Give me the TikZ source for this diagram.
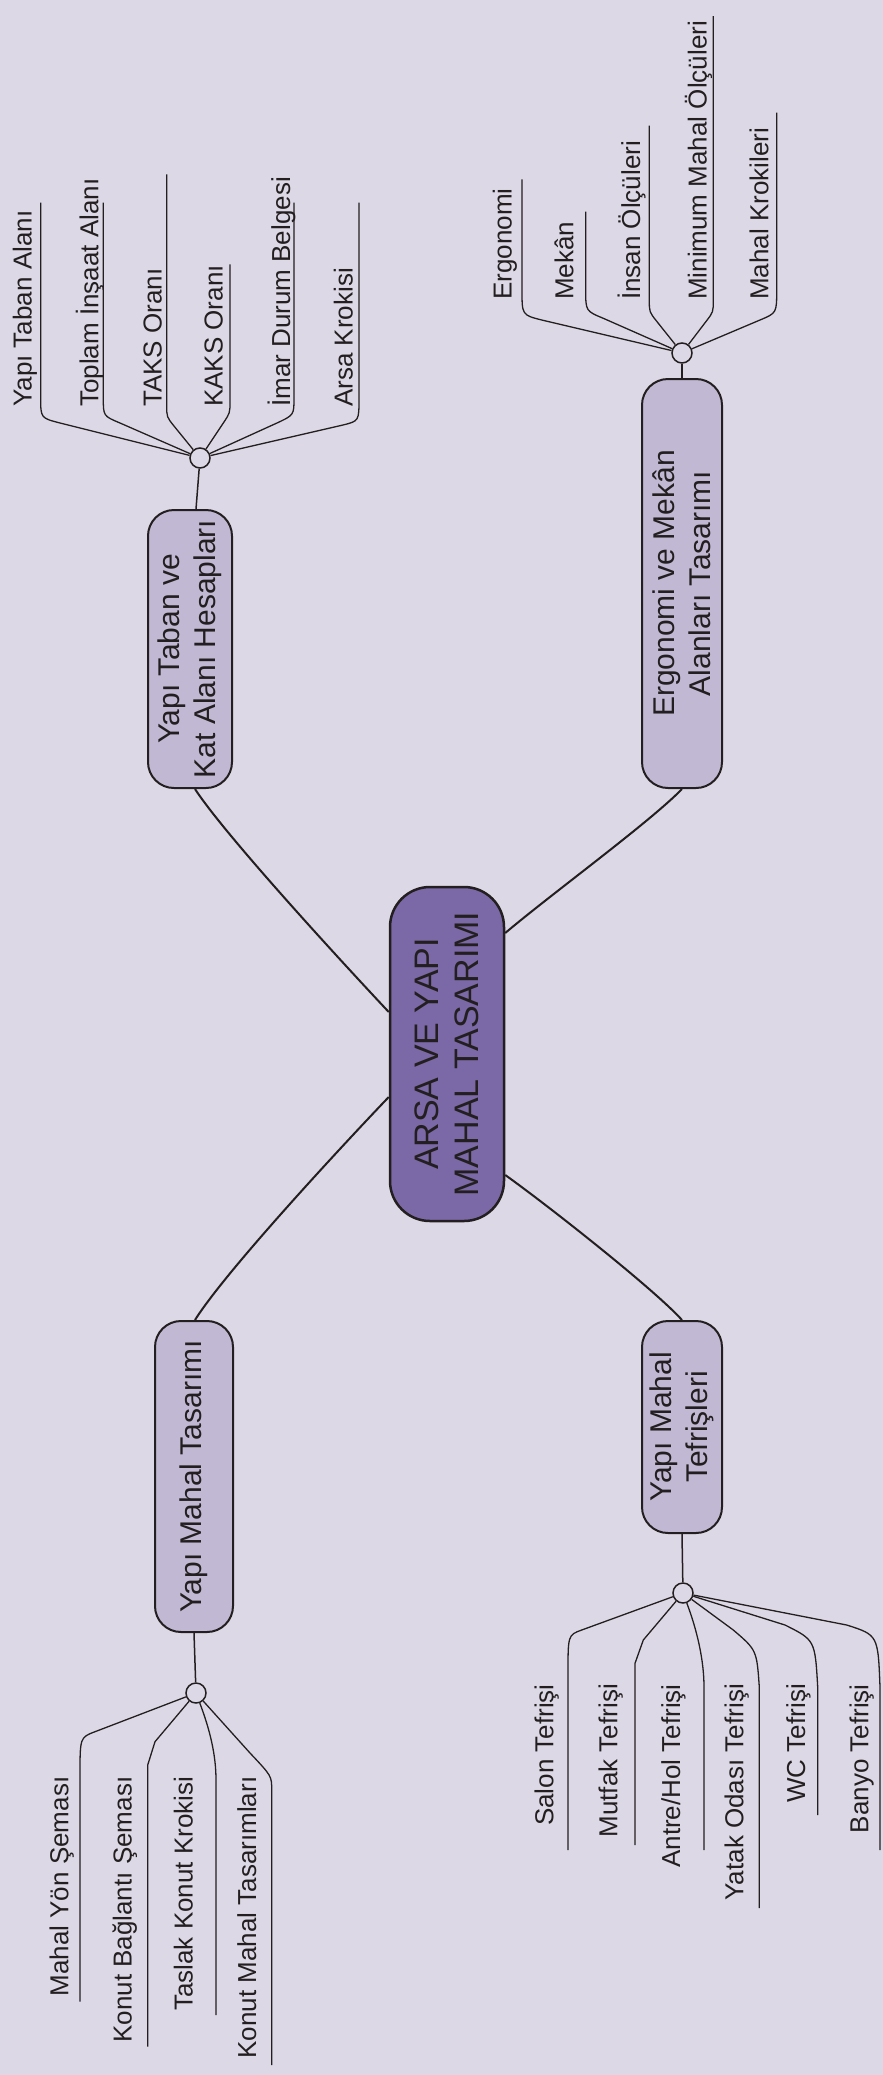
\documentclass[tikz,border=0pt]{standalone}
\usepackage{fontspec}
\setmainfont{Liberation Sans}
\usetikzlibrary{calc}
\definecolor{bg}{HTML}{DDD8E5}
\definecolor{subfill}{HTML}{C1B9D4}
\definecolor{mainfill}{HTML}{7B68A6}
\definecolor{ink}{HTML}{231F20}
\begin{document}
\begin{tikzpicture}[x=1pt,y=-1pt,
  mainbox/.style={draw=ink, line width=2.5pt, fill=mainfill, rounded corners=40pt, rotate=90, align=center, inner sep=0pt, font=\fontsize{34}{40}\selectfont, text=ink},
  subbox/.style={draw=ink, line width=2pt, fill=subfill, rounded corners=26pt, rotate=90, align=center, inner sep=0pt, font=\fontsize{30}{36}\selectfont, text=ink},
  junc/.style={circle, draw=ink, fill=bg, line width=1.5pt, minimum size=20pt, inner sep=0pt},
  leaf/.style={rotate=90, inner sep=0pt, font=\fontsize{26}{30}\selectfont, text=ink},
  upleaf/.style={leaf, anchor=base west},
  downleaf/.style={leaf, anchor=base east},
  branch/.style={draw=ink, line width=2pt},
  twig/.style={draw=ink, line width=1.3pt},
]
\fill[bg] (0,0) rectangle (883,2075);
\useasboundingbox (0,0) rectangle (883,2075);

% main and sub nodes
\node[mainbox, minimum width=334pt, minimum height=114pt] (c) at (447,1054) {ARSA VE YAPI\\MAHAL TASARIMI};
\node[subbox, minimum width=278pt, minimum height=84pt] (b1) at (190,649) {Yapı Taban ve\\Kat Alanı Hesapları};
\node[subbox, minimum width=409pt, minimum height=80pt] (b2) at (682,583.5) {Ergonomi ve Mekân\\Alanları Tasarımı};
\node[subbox, minimum width=311pt, minimum height=78pt] (b3) at (194,1476.5) {Yapı Mahal Tasarımı};
\node[subbox, minimum width=212pt, minimum height=80pt] (b4) at (682,1427) {Yapı Mahal\\Tefrişleri};

% main branches
\draw[branch] ($(c.north)+(0,-42)$) .. controls (340,960) and (225,835) .. ($(b1.west)+(5,0)$);
\draw[branch] ($(c.south)+(0,-121)$) .. controls (550,895) and (650,822) .. (b2.west);
\draw[branch] ($(c.north)+(0,43)$) .. controls (340,1148) and (225,1272) .. ($(b3.east)+(1,0)$);
\draw[branch] ($(c.south)+(0,121)$) .. controls (550,1207) and (655,1290) .. (b4.east);

% junctions
\node[junc] (j1) at (200,458) {};
\node[junc] (j2) at (682,353) {};
\node[junc] (j3) at (196,1693) {};
\node[junc] (j4) at (683,1593) {};
\draw[branch, line width=1.5pt] (j1) -- ($(b1.east)+(6,0)$);
\draw[branch, line width=1.5pt] (j2) -- (b2.east);
\draw[branch, line width=1.5pt] (j3) -- (b3.west);
\draw[branch, line width=1.5pt] (j4) -- (b4.west);

% group 1
\node[upleaf] (t1a) at (31.7,407) {Yapı Taban Alanı};
\node[upleaf] (t1b) at (98.3,407) {Toplam İnşaat Alanı};
\node[upleaf] (t1c) at (161.7,407) {TAKS Oranı};
\node[upleaf] (t1d) at (222.7,407) {KAKS Oranı};
\node[upleaf] (t1e) at (290,407) {İmar Durum Belgesi};
\node[upleaf] (t1f) at (352.7,407) {Arsa Krokisi};
\coordinate (e1a) at (40.7,202.7);
\coordinate (e1b) at (103.3,202.7);
\coordinate (e1c) at (166.7,174.3);
\coordinate (e1d) at (230,264.3);
\coordinate (e1e) at (294,202.7);
\coordinate (e1f) at (359,202.7);
\draw[twig] (j1) -- (60,423) .. controls (40.7,418) .. (40.7,398) -- (e1a);
\draw[twig] (j1) -- (120,423) .. controls (103.3,416) .. (103.3,398) -- (e1b);
\draw[twig] (j1) -- (174.3,426.4) .. controls (166.7,417) .. (166.7,405) -- (e1c);
\draw[twig] (j1) -- (223.3,423) .. controls (230,413) .. (230,401) -- (e1d);
\draw[twig] (j1) -- (277,423) .. controls (294,415) .. (294,398) -- (e1e);
\draw[twig] (j1) -- (343,425) .. controls (359,421) .. (359,398) -- (e1f);

% group 2
\node[upleaf] (t2a) at (511.7,300) {Ergonomi};
\node[upleaf] (t2b) at (573.3,300) {Mekân};
\node[upleaf] (t2c) at (640,300) {İnsan Ölçüleri};
\node[upleaf] (t2d) at (706.7,300) {Minimum Mahal Ölçüleri};
\node[upleaf] (t2e) at (768.3,300) {Mahal Krokileri};
\coordinate (e2a) at (522,179.3);
\coordinate (e2b) at (585.7,211.7);
\coordinate (e2c) at (649.3,125.7);
\coordinate (e2d) at (713.3,16);
\coordinate (e2e) at (776.7,112.7);
\draw[twig] (j2) -- (541.7,320) .. controls (522,315) .. (522,290) -- (e2a);
\draw[twig] (j2) -- (603.3,318.3) .. controls (585.7,311) .. (585.7,290) -- (e2b);
\draw[twig] (j2) -- (656.8,321.4) .. controls (649.3,312) .. (649.3,300) -- (e2c);
\draw[twig] (j2) -- (706,321.5) .. controls (713.3,312) .. (713.3,300) -- (e2d);
\draw[twig] (j2) -- (760,320) .. controls (776.7,313) .. (776.7,290) -- (e2e);

% group 3
\node[downleaf] (t3a) at (68.3,1776.5) {Mahal Yön Şeması};
\node[downleaf] (t3b) at (131.7,1776.5) {Konut Bağlantı Şeması};
\node[downleaf] (t3c) at (192.7,1776.5) {Taslak Konut Krokisi};
\node[downleaf] (t3d) at (256,1776.5) {Konut Mahal Tasarımları};
\coordinate (e3a) at (80,2001.7);
\coordinate (e3b) at (147.7,2046.7);
\coordinate (e3c) at (216,2015);
\coordinate (e3d) at (271.7,2065);
\draw[twig] (j3) -- (95,1731.7) .. controls (80,1737.4) .. (80,1775) -- (e3a);
\draw[twig] (j3) -- (155,1741.7) -- (147.7,1765) -- (e3b);
\draw[twig] (j3) .. controls (210,1730) and (216,1755) .. (216,1780) -- (e3c);
\draw[twig] (j3) -- (250,1753) .. controls (271.7,1776) .. (271.7,1790) -- (e3d);

% group 4
\node[downleaf] (t4a) at (553.3,1684) {Salon Tefrişi};
\node[downleaf] (t4b) at (617.3,1684) {Mutfak Tefrişi};
\node[downleaf] (t4c) at (680,1684) {Antre/Hol Tefrişi};
\node[downleaf] (t4d) at (743.3,1684) {Yatak Odası Tefrişi};
\node[downleaf] (t4e) at (805,1684) {WC Tefrişi};
\node[downleaf] (t4f) at (868.3,1684) {Banyo Tefrişi};
\coordinate (e4a) at (568,1850);
\coordinate (e4b) at (635,1845);
\coordinate (e4c) at (704,1850);
\coordinate (e4d) at (759.3,1908);
\coordinate (e4e) at (817.7,1815);
\coordinate (e4f) at (880,1850);
\draw[twig] (j4) -- (581.7,1630) .. controls (568,1635) .. (568,1673) -- (e4a);
\draw[twig] (j4) -- (643.3,1640) -- (635,1663.3) -- (e4b);
\draw[twig] (j4) .. controls (697,1630) and (704,1660) .. (704,1687) -- (e4c);
\draw[twig] (j4) -- (733.3,1630) .. controls (756.7,1650) .. (759.3,1687) -- (e4d);
\draw[twig] (j4) -- (785,1625) .. controls (815,1640) .. (817.7,1687) -- (e4e);
\draw[twig] (j4) -- (846.7,1625) .. controls (878,1635) .. (880,1687) -- (e4f);
\end{tikzpicture}
\end{document}
